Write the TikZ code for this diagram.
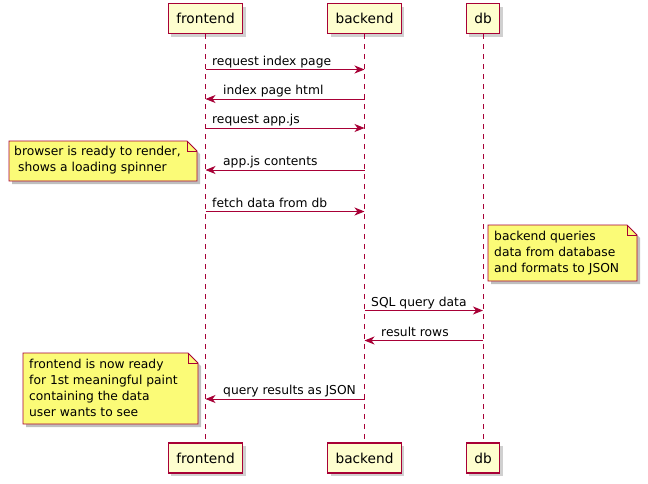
\documentclass[tikz,border=0pt]{standalone}
\usepackage{fontspec}
\setmainfont{DejaVu Sans}
\usetikzlibrary{arrows.meta,shadows}
\definecolor{pborder}{HTML}{A80036}
\definecolor{pfill}{HTML}{FEFECE}
\definecolor{nfill}{HTML}{FBFB77}
\begin{document}
\begin{tikzpicture}[x=1pt,y=-1pt,
 participant/.style={draw=pborder, fill=pfill, line width=1.1pt, minimum height=30pt, inner xsep=8pt, inner ysep=0pt,
   font=\fontsize{13.7}{16}\selectfont,
   drop shadow={shadow xshift=3pt, shadow yshift=-3pt, opacity=0.3, fill=black!60}},
 lifeline/.style={draw=pborder, dash pattern=on 5pt off 5pt, line width=0.8pt},
 msg/.style={draw=pborder, line width=0.9pt, -{Stealth[length=10pt,width=8pt,inset=3pt]}},
 lbl/.style={font=\fontsize{12.3}{15}\selectfont, inner sep=0pt, anchor=base west},
 notetext/.style={font=\fontsize{12.3}{16.2}\selectfont, align=left, inner sep=0pt, anchor=north west},
 notebody/.style={draw=pborder, fill=nfill, line width=0.9pt, line join=miter},
 noteshadow/.style={fill=black, opacity=0.25}
]
\useasboundingbox (0,0) rectangle (648,483);
\fill[white] (0,0) rectangle (648,483);

% participants
\node[participant] (feT) at (205.5,18.5) {frontend};
\node[participant] (beT) at (364.5,18.5) {backend};
\node[participant] (dbT) at (483,18.5) {db};
\node[participant] (feB) at (205.5,458) {frontend};
\node[participant] (beB) at (364.5,458) {backend};
\node[participant] (dbB) at (483,458) {db};

% lifelines
\begin{scope}[on background layer/.try]
\end{scope}
\draw[lifeline] (feT.south) -- (feB.north);
\draw[lifeline] (beT.south) -- (beB.north);
\draw[lifeline] (dbT.south) -- (dbB.north);

% message anchor coordinates
\coordinate (f1) at (205.5,69.5); \coordinate (b1) at (364.5,69.5);
\coordinate (f2) at (205.5,99);   \coordinate (b2) at (364.5,99);
\coordinate (f3) at (205.5,128);  \coordinate (b3) at (364.5,128);
\coordinate (f4) at (205.5,170);  \coordinate (b4) at (364.5,170);
\coordinate (f5) at (205.5,211.5);\coordinate (b5) at (364.5,211.5);
\coordinate (b6) at (364.5,310.5);\coordinate (d6) at (483,310.5);
\coordinate (b7) at (364.5,340.5);\coordinate (d7) at (483,340.5);
\coordinate (f8) at (205.5,399);  \coordinate (b8) at (364.5,399);

% messages
\draw[msg] (f1) -- (b1);
\node[lbl] (m1) at (212,65) {request index page};
\draw[msg] (b2) -- (f2);
\node[lbl] (m2) at (223,94.5) {index page html};
\draw[msg] (f3) -- (b3);
\node[lbl] (m3) at (212,123.5) {request app.js};
\draw[msg] (b4) -- (f4);
\node[lbl] (m4) at (223,165.5) {app.js contents};
\draw[msg] (f5) -- (b5);
\node[lbl] (m5) at (212,207) {fetch data from db};
\draw[msg] (b6) -- (d6);
\node[lbl] (m6) at (371,306) {SQL query data};
\draw[msg] (d7) -- (b7);
\node[lbl] (m7) at (381,336) {result rows};
\draw[msg] (b8) -- (f8);
\node[lbl] (m8) at (223,394.5) {query results as JSON};

% note 1
\fill[noteshadow] (12,144) -- (190,144) -- (200,154) -- (200,184) -- (12,184) -- cycle;
\draw[notebody] (9,141) -- (187,141) -- (197,151) -- (197,181) -- (9,181) -- cycle;
\draw[draw=pborder, line width=0.9pt] (187,141) -- (187,151) -- (197,151);
\node[notetext] (n1) at (14,146) {browser is ready to render,\\ \ shows a loading spinner};

% note 2
\fill[noteshadow] (491,228) -- (630,228) -- (640,238) -- (640,284) -- (491,284) -- cycle;
\draw[notebody] (488,225) -- (627,225) -- (637,235) -- (637,281) -- (488,281) -- cycle;
\draw[draw=pborder, line width=0.9pt] (627,225) -- (627,235) -- (637,235);
\node[notetext] (n2) at (494,230.5) {backend queries\\data from database\\and formats to JSON};

% note 3
\fill[noteshadow] (26,356) -- (191,356) -- (201,366) -- (201,427) -- (26,427) -- cycle;
\draw[notebody] (23,353) -- (188,353) -- (198,363) -- (198,424) -- (23,424) -- cycle;
\draw[draw=pborder, line width=0.9pt] (188,353) -- (188,363) -- (198,363);
\node[notetext] (n3) at (29,358.5) {frontend is now ready\\for 1st meaningful paint\\containing the data\\user wants to see};
\end{tikzpicture}
\end{document}
